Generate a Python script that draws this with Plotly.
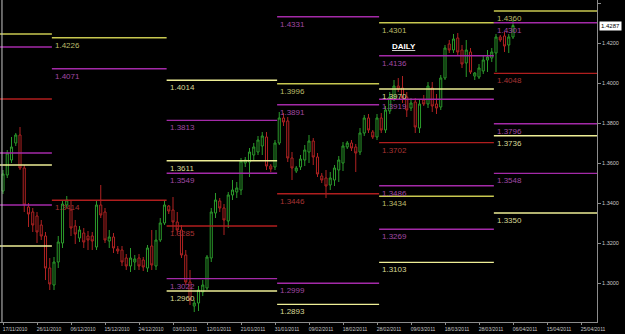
import plotly.graph_objects as go

# ---------------- data ----------------
bar_index = list(range(121))
opens = [1.3460,1.3540,1.3615,1.3700,1.3740,1.3575,1.3380,1.3355,1.3335,1.3290,
         1.3235,1.3075,1.2990,1.3105,1.3200,1.3390,1.3365,1.3285,1.3225,1.3250,
         1.3235,1.3235,1.3180,1.3390,1.3355,1.3210,1.3230,1.3170,1.3165,1.3125,
         1.3085,1.3105,1.3125,1.3115,1.3075,1.3185,1.3085,1.3215,1.3300,1.3385,
         1.3365,1.3305,1.3265,1.3140,1.3005,1.2885,1.2900,1.2955,1.2975,1.3125,
         1.3350,1.3410,1.3375,1.3310,1.3440,1.3455,1.3465,1.3600,1.3605,1.3640,
         1.3655,1.3685,1.3730,1.3585,1.3580,1.3700,1.3825,1.3810,1.3625,1.3560,
         1.3580,1.3615,1.3655,1.3710,1.3630,1.3535,1.3525,1.3490,1.3515,1.3565,
         1.3600,1.3680,1.3700,1.3680,1.3655,1.3750,1.3825,1.3755,1.3730,1.3825,
         1.3765,1.3860,1.3925,1.3985,1.3975,1.3930,1.3875,1.3905,1.3775,1.3915,
         1.3895,1.3975,1.3895,1.3880,1.4025,1.4195,1.4165,1.4225,1.4165,1.4100,
         1.4155,1.4035,1.4030,1.4060,1.4115,1.4125,1.4150,1.4230,1.4235,1.4190,
         1.4230]
highs = [1.3565,1.3665,1.3730,1.3750,1.3780,1.3590,1.3400,1.3375,1.3355,1.3315,
         1.3255,1.3125,1.3130,1.3235,1.3415,1.3435,1.3415,1.3315,1.3285,1.3275,
         1.3260,1.3255,1.3415,1.3490,1.3375,1.3265,1.3250,1.3185,1.3185,1.3145,
         1.3175,1.3140,1.3145,1.3130,1.3190,1.3265,1.3265,1.3325,1.3415,1.3390,
         1.3430,1.3355,1.3290,1.3165,1.3065,1.2915,1.2985,1.3015,1.3140,1.3375,
         1.3450,1.3425,1.3395,1.3455,1.3515,1.3505,1.3625,1.3630,1.3675,1.3700,
         1.3735,1.3755,1.3755,1.3595,1.3715,1.3855,1.3850,1.3830,1.3655,1.3585,
         1.3640,1.3690,1.3740,1.3725,1.3650,1.3550,1.3565,1.3555,1.3590,1.3635,
         1.3705,1.3710,1.3715,1.3695,1.3775,1.3840,1.3845,1.3765,1.3845,1.3850,
         1.3885,1.3955,1.4015,1.4025,1.4035,1.3955,1.3925,1.3925,1.3915,1.3940,
         1.4005,1.4005,1.3945,1.4040,1.4190,1.4215,1.4245,1.4250,1.4190,1.4215,
         1.4175,1.4055,1.4095,1.4135,1.4165,1.4175,1.4245,1.4240,1.4255,1.4245,
         1.4315]
lows = [1.3445,1.3525,1.3600,1.3685,1.3565,1.3355,1.3280,1.3255,1.3200,1.3215,
        1.3015,1.2965,1.2965,1.3075,1.3175,1.3375,1.3235,1.3195,1.3205,1.3175,
        1.3165,1.3165,1.3165,1.3325,1.3200,1.3175,1.3150,1.3145,1.3085,1.3065,
        1.3055,1.3065,1.3065,1.3060,1.3055,1.3065,1.3065,1.3205,1.3290,1.3345,
        1.3255,1.3240,1.3125,1.2990,1.2890,1.2855,1.2860,1.2935,1.2965,1.3105,
        1.3325,1.3355,1.3240,1.3275,1.3415,1.3425,1.3440,1.3580,1.3530,1.3615,
        1.3640,1.3640,1.3565,1.3555,1.3565,1.3690,1.3785,1.3605,1.3515,1.3550,
        1.3565,1.3585,1.3600,1.3590,1.3530,1.3500,1.3425,1.3465,1.3485,1.3505,
        1.3560,1.3670,1.3660,1.3555,1.3640,1.3735,1.3750,1.3720,1.3715,1.3750,
        1.3750,1.3845,1.3910,1.3955,1.3900,1.3830,1.3860,1.3750,1.3750,1.3885,
        1.3875,1.3855,1.3845,1.3865,1.4015,1.4150,1.4150,1.4135,1.4075,1.4030,
        1.4045,1.4015,1.4020,1.4045,1.4055,1.4105,1.4055,1.4205,1.4155,1.4150,
        1.4220]
closes = [1.3545,1.3650,1.3680,1.3740,1.3575,1.3390,1.3345,1.3290,1.3255,1.3235,
          1.3075,1.2995,1.3105,1.3205,1.3395,1.3415,1.3275,1.3245,1.3265,1.3205,
          1.3215,1.3210,1.3390,1.3340,1.3215,1.3230,1.3175,1.3160,1.3105,1.3085,
          1.3125,1.3120,1.3085,1.3080,1.3175,1.3090,1.3215,1.3300,1.3390,1.3360,
          1.3305,1.3265,1.3140,1.3005,1.2915,1.2900,1.2965,1.2990,1.3130,1.3355,
          1.3415,1.3375,1.3315,1.3440,1.3465,1.3475,1.3610,1.3615,1.3655,1.3680,
          1.3715,1.3735,1.3585,1.3570,1.3700,1.3825,1.3805,1.3625,1.3575,1.3575,
          1.3620,1.3665,1.3710,1.3630,1.3545,1.3515,1.3485,1.3525,1.3575,1.3615,
          1.3685,1.3700,1.3675,1.3650,1.3750,1.3825,1.3765,1.3730,1.3825,1.3765,
          1.3865,1.3930,1.3985,1.3970,1.3925,1.3865,1.3900,1.3780,1.3895,1.3895,
          1.3985,1.3885,1.3875,1.4025,1.4175,1.4165,1.4220,1.4155,1.4095,1.4165,
          1.4055,1.4050,1.4075,1.4115,1.4130,1.4155,1.4230,1.4215,1.4185,1.4230,
          1.4287]

date_tick_index = [0, 8, 16, 24, 32, 40, 48, 56, 64, 72, 80, 88, 96, 104, 112, 120, 128, 136]
date_tick_labels = ["17/11/2010", "26/11/2010", "06/12/2010", "15/12/2010", "24/12/2010",
                    "03/01/2011", "12/01/2011", "21/01/2011", "31/01/2011", "09/02/2011",
                    "18/02/2011", "28/02/2011", "09/03/2011", "18/03/2011", "28/03/2011",
                    "06/04/2011", "15/04/2011", "25/04/2011"]
price_ticks = [1.28, 1.30, 1.32, 1.34, 1.36, 1.38, 1.40, 1.42, 1.44]
price_tick_labels = ["1.2800", "1.3000", "1.3200", "1.3400", "1.3600", "1.3800", "1.4000", "1.4200", "1.4400"]

# monthly level segments (bar-index boundaries)
segment_start = [-0.71, 11.5, 38.5, 64.5, 88.5, 115.5]
segment_end = [11.5, 38.5, 64.5, 88.5, 115.5, 139.77]
level_segment = [0, 0, 0, 0, 0, 0, 0,
                 1, 1, 1,
                 2, 2, 2, 2, 2, 2, 2,
                 3, 3, 3, 3, 3, 3,
                 4, 4, 4, 4, 4, 4, 4, 4, 4,
                 5, 5, 5, 5, 5, 5, 5]
level_price = [1.4245, 1.4180, 1.3920, 1.3650, 1.3590, 1.3390, 1.3185,
               1.4226, 1.4071, 1.3414,
               1.4014, 1.3813, 1.3611, 1.3549, 1.3285, 1.3022, 1.2960,
               1.4331, 1.3996, 1.3891, 1.3446, 1.2999, 1.2893,
               1.4301, 1.4136, 1.3970, 1.3919, 1.3702, 1.3486, 1.3434, 1.3269, 1.3103,
               1.4360, 1.4301, 1.4048, 1.3796, 1.3736, 1.3548, 1.3350]
level_kind = ["y1", "m", "r", "m", "y2", "m", "y2",
              "y1", "m", "r",
              "y2", "m", "y2", "m", "r", "m", "y2",
              "m", "y1", "m", "r", "m", "y2",
              "y1", "m", "y2", "m", "r", "m", "y1", "m", "y2",
              "y1", "m", "r", "m", "y2", "m", "y2"]
level_label = ["", "", "", "", "", "", "",
               "1.4226", "1.4071", "1.3414",
               "1.4014", "1.3813", "1.3611", "1.3549", "1.3285", "1.3022", "1.2960",
               "1.4331", "1.3996", "1.3891", "1.3446", "1.2999", "1.2893",
               "1.4301", "1.4136", "1.3970", "1.3919", "1.3702", "1.3486", "1.3434", "1.3269", "1.3103",
               "1.4360", "1.4301", "1.4048", "1.3796", "1.3736", "1.3548", "1.3350"]
last_price = 1.4287

# ---------------- styling ----------------
line_colors = {"y1": "#c8c850", "y2": "#eeee96", "m": "#a42aa8", "r": "#b01e1e"}
text_colors = {"y1": "#bcbc6a", "y2": "#d8d896", "m": "#a049a4", "r": "#a83434"}
BULL = "#2b9a2b"
BEAR = "#b02222"
AXIS = "#8c8c8c"
TICKTXT = "#c8c8c8"

fig = go.Figure()

# level lines
for seg, p, kind in zip(level_segment, level_price, level_kind):
    fig.add_trace(go.Scatter(
        x=[segment_start[seg], segment_end[seg]], y=[p, p], mode="lines",
        line=dict(color=line_colors[kind], width=1.4),
        hoverinfo="skip", showlegend=False))

# candles
fig.add_trace(go.Candlestick(
    x=bar_index, open=opens, high=highs, low=lows, close=closes,
    increasing=dict(line=dict(color=BULL, width=1), fillcolor="black"),
    decreasing=dict(line=dict(color=BEAR, width=1), fillcolor="black"),
    whiskerwidth=0, showlegend=False))

annotations = []
for seg, p, kind, lab in zip(level_segment, level_price, level_kind, level_label):
    if lab:
        annotations.append(dict(
            x=segment_start[seg], y=p, xref="x", yref="y", text=lab, showarrow=False,
            xanchor="left", yanchor="top", xshift=1, yshift=-1,
            font=dict(family="Liberation Sans", size=8, color=text_colors[kind])))

annotations.append(dict(
    x=91.0, y=1.4185, xref="x", yref="y", text="<b><u>DAILY</u></b>", showarrow=False,
    xanchor="left", yanchor="middle",
    font=dict(family="Liberation Sans", size=8, color="white")))

annotations.append(dict(
    x=1, y=last_price, xref="paper", yref="y", text=last_price.__format__(".4f"),
    showarrow=False, xanchor="left", yanchor="middle", xshift=2,
    bgcolor="white", borderpad=1,
    font=dict(family="Liberation Sans", size=6, color="black")))

fig.update_layout(
    width=625, height=334,
    margin=dict(l=0, r=28, t=0, b=12),
    paper_bgcolor="black", plot_bgcolor="black",
    showlegend=False,
    annotations=annotations,
    shapes=[dict(type="line", xref="x", yref="paper", x0=-0.24, x1=-0.24, y0=0, y1=1,
                 line=dict(color="#c8c8c8", width=1))],
    boxgap=0.3,
)
fig.update_xaxes(
    range=[-0.706, 139.765], rangeslider=dict(visible=False),
    showgrid=False, zeroline=False,
    showline=True, linecolor=AXIS, linewidth=1,
    tickmode="array", tickvals=date_tick_index, ticktext=date_tick_labels,
    ticks="outside", ticklen=2, tickcolor=AXIS,
    ticklabelshift=12, ticklabelstandoff=0,
    tickfont=dict(family="Liberation Sans", size=5, color=TICKTXT),
)
fig.update_yaxes(
    range=[1.2805, 1.4415], side="right",
    showgrid=False, zeroline=False,
    showline=True, linecolor=AXIS, linewidth=1,
    tickmode="array", tickvals=price_ticks, ticktext=price_tick_labels,
    ticks="outside", ticklen=3, tickcolor=AXIS,
    tickfont=dict(family="Liberation Sans", size=5.5, color=TICKTXT),
)

fig.write_html("out.html")
